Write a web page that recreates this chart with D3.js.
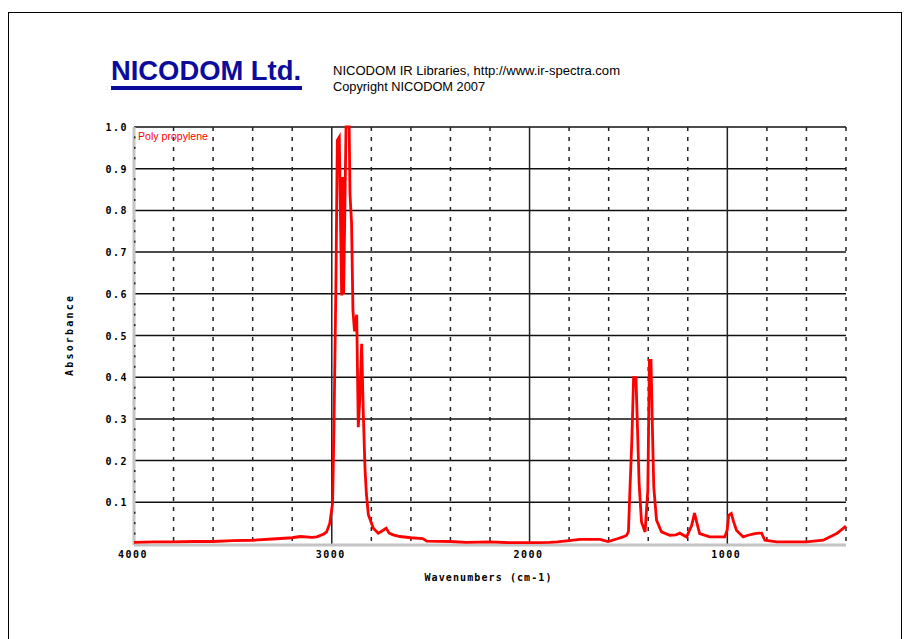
<!DOCTYPE html>
<html>

<head>
    <meta charset="utf-8">
    <title>Poly propylene IR spectrum</title>
    <script type="text/javascript" src="https://d3js.org/d3.v7.min.js"></script>

    <style>
        body {
            margin: 0;
            background: #fff;
        }

        svg {
            display: block;
        }

        .mono {
            font-family: "DejaVu Sans Mono", monospace;
            font-weight: bold;
        }
    </style>

</head>

<body>
</body>

<script type="text/javascript">
    //Width and height
    var w = 906;
    var h = 639;

    //Spectrum: wavenumber (cm-1) and absorbance
    var wavenumbers = [
        4000, 3900, 3800, 3700, 3600, 3500, 3400, 3300, 3200, 3160, 3100, 3076, 3040, 3026, 3010,
        2996, 2989, 2979, 2972, 2962, 2955, 2950, 2945, 2940, 2934, 2928, 2912, 2908, 2900,
        2893, 2885, 2874, 2866, 2858, 2849, 2841, 2832, 2825, 2815, 2790, 2765, 2740, 2725,
        2710, 2690, 2655, 2600, 2540, 2520, 2400, 2320, 2200, 2100, 2000, 1900, 1860, 1800,
        1745, 1700, 1644, 1603, 1560, 1527, 1509, 1500, 1492, 1483, 1474, 1462, 1456, 1446,
        1434, 1416, 1402, 1394, 1386, 1378, 1372, 1358, 1333, 1291, 1260, 1240, 1206, 1180,
        1166, 1153, 1140, 1089, 1013, 1001, 993, 980, 968, 954, 920, 895, 861, 840, 827, 810,
        750, 600, 515, 447, 405, 400
    ];
    var absorbance = [
        0.004, 0.005, 0.005, 0.006, 0.006, 0.008, 0.009, 0.012, 0.015, 0.018, 0.016, 0.017, 0.024, 0.029, 0.05,
        0.098, 0.277, 0.628, 0.968, 0.976, 0.748, 0.596, 0.88, 0.6, 0.8, 1.0, 1.0, 0.84, 0.77,
        0.56, 0.51, 0.55, 0.28, 0.35, 0.48, 0.32, 0.18, 0.12, 0.07, 0.038, 0.026, 0.033, 0.038,
        0.026, 0.022, 0.018, 0.015, 0.013, 0.007, 0.006, 0.004, 0.005, 0.003, 0.003, 0.004, 0.005, 0.008,
        0.011, 0.011, 0.011, 0.006, 0.012, 0.017, 0.021, 0.03, 0.136, 0.245, 0.399, 0.399, 0.305, 0.145,
        0.053, 0.029, 0.129, 0.44, 0.44, 0.26, 0.137, 0.057, 0.029, 0.021, 0.022, 0.026, 0.017, 0.045,
        0.074, 0.049, 0.025, 0.017, 0.017, 0.033, 0.069, 0.073, 0.053, 0.033, 0.017, 0.021, 0.025, 0.026, 0.026, 0.009,
        0.005, 0.005, 0.009, 0.025, 0.041, 0.043
    ];

    //Axis ticks
    var yTicks = [0.1, 0.2, 0.3, 0.4, 0.5, 0.6, 0.7, 0.8, 0.9, 1.0];
    var xLabelTicks = [4000, 3000, 2000, 1000];
    var xMajorGrid = [3000, 2000, 1000];
    var xMinorGrid = [3800, 3600, 3400, 3200, 2800, 2600, 2400, 2200, 1800, 1600, 1400, 1200, 800, 600, 400];
    var yDots = d3.range(0.025, 1.0, 0.025).filter(function(v) {
        return Math.abs(v * 10 - Math.round(v * 10)) > 0.01;
    });

    var spectrum = wavenumbers.map(function(d, i) {
        return { wn: d, a: absorbance[i] };
    });

    //Plot frame
    var pLeft = 134, pRight = 846, pTop = 127, pBottom = 544;

    var x = d3.scaleLinear().domain([4000, 400]).range([pLeft, pRight]);
    var y = d3.scaleLinear().domain([0, 1.0]).range([pBottom, pTop]);

    //Create SVG element
    var svg = d3.select("body")
        .append("svg")
        .attr("width", w)
        .attr("height", h);

    //Outer page border
    svg.append("rect")
        .attr("x", 8.5)
        .attr("y", 12.5)
        .attr("width", 893)
        .attr("height", 700)
        .attr("fill", "none")
        .attr("stroke", "#000")
        .attr("stroke-width", 1);

    //Header
    svg.append("text")
        .attr("x", 111)
        .attr("y", 80)
        .attr("font-family", "Liberation Sans, Arial, sans-serif")
        .attr("font-weight", "bold")
        .attr("font-size", 27)
        .attr("fill", "#0b0b9c")
        .attr("textLength", 190)
        .attr("lengthAdjust", "spacingAndGlyphs")
        .text("NICODOM Ltd.");

    svg.append("rect")
        .attr("x", 111)
        .attr("y", 86)
        .attr("width", 191)
        .attr("height", 4)
        .attr("fill", "#0b0b9c");

    svg.append("text")
        .attr("x", 333)
        .attr("y", 75)
        .attr("font-family", "Liberation Sans, Arial, sans-serif")
        .attr("font-size", 12)
        .attr("textLength", 287)
        .attr("lengthAdjust", "spacingAndGlyphs")
        .text("NICODOM IR Libraries, http://www.ir-spectra.com");

    svg.append("text")
        .attr("x", 333)
        .attr("y", 91)
        .attr("font-family", "Liberation Sans, Arial, sans-serif")
        .attr("font-size", 12)
        .attr("textLength", 152)
        .attr("lengthAdjust", "spacingAndGlyphs")
        .text("Copyright NICODOM 2007");

    //Horizontal grid lines
    svg.selectAll("line.hgrid")
        .data(yTicks)
        .enter()
        .append("line")
        .attr("class", "hgrid")
        .attr("x1", pLeft)
        .attr("x2", pRight)
        .attr("y1", function(d) { return y(d); })
        .attr("y2", function(d) { return y(d); })
        .attr("stroke", "#111")
        .attr("stroke-width", 1.5);

    //Dashed vertical grid lines
    svg.selectAll("line.vminor")
        .data(xMinorGrid)
        .enter()
        .append("line")
        .attr("class", "vminor")
        .attr("x1", function(d) { return x(d); })
        .attr("x2", function(d) { return x(d); })
        .attr("y1", pTop)
        .attr("y2", pBottom)
        .attr("stroke", "#222")
        .attr("stroke-width", 1.5)
        .attr("stroke-dasharray", "4,6");

    //Solid vertical grid lines
    svg.selectAll("line.vmajor")
        .data(xMajorGrid)
        .enter()
        .append("line")
        .attr("class", "vmajor")
        .attr("x1", function(d) { return x(d); })
        .attr("x2", function(d) { return x(d); })
        .attr("y1", pTop)
        .attr("y2", pBottom)
        .attr("stroke", "#222")
        .attr("stroke-width", 1.5);

    //Grey axis lines
    svg.append("line")
        .attr("x1", pLeft).attr("x2", pLeft)
        .attr("y1", pTop).attr("y2", pBottom + 1)
        .attr("stroke", "#c4c4c4")
        .attr("stroke-width", 3);

    svg.append("line")
        .attr("x1", pLeft).attr("x2", pRight)
        .attr("y1", pBottom + 1).attr("y2", pBottom + 1)
        .attr("stroke", "#c4c4c4")
        .attr("stroke-width", 3);

    //Minor dots on the left axis
    svg.selectAll("rect.ydot")
        .data(yDots)
        .enter()
        .append("rect")
        .attr("class", "ydot")
        .attr("x", pLeft)
        .attr("y", function(d) { return y(d) - 1; })
        .attr("width", 1.5)
        .attr("height", 2)
        .attr("fill", "#222");

    //Y tick labels
    svg.selectAll("text.ylab")
        .data(yTicks)
        .enter()
        .append("text")
        .attr("class", "ylab mono")
        .attr("x", 128)
        .attr("y", function(d) { return y(d) + 4; })
        .attr("text-anchor", "end")
        .attr("font-size", 10)
        .attr("letter-spacing", 1.5)
        .text(function(d) { return d.toFixed(1); });

    //X tick labels
    svg.selectAll("text.xlab")
        .data(xLabelTicks)
        .enter()
        .append("text")
        .attr("class", "xlab mono")
        .attr("x", function(d) { return x(d) - 1; })
        .attr("y", 558)
        .attr("text-anchor", "middle")
        .attr("font-size", 10)
        .attr("letter-spacing", 1.5)
        .text(function(d) { return d; });

    //Axis titles
    svg.append("text")
        .attr("class", "mono")
        .attr("x", 488)
        .attr("y", 581)
        .attr("text-anchor", "middle")
        .attr("font-size", 10)
        .attr("textLength", 127)
        .attr("lengthAdjust", "spacing")
        .text("Wavenumbers (cm-1)");

    svg.append("text")
        .attr("class", "mono")
        .attr("transform", "translate(73,336) rotate(-90)")
        .attr("text-anchor", "middle")
        .attr("font-size", 10)
        .attr("textLength", 80)
        .attr("lengthAdjust", "spacing")
        .text("Absorbance");

    //Clip for the spectrum
    svg.append("clipPath")
        .attr("id", "plotclip")
        .append("rect")
        .attr("x", pLeft)
        .attr("y", pTop - 2)
        .attr("width", pRight - pLeft + 2)
        .attr("height", pBottom - pTop + 2);

    var line = d3.line()
        .x(function(d) { return x(d.wn); })
        .y(function(d) { return y(d.a); });

    svg.append("path")
        .datum(spectrum)
        .attr("clip-path", "url(#plotclip)")
        .attr("d", line)
        .attr("fill", "none")
        .attr("stroke", "#ff0000")
        .attr("stroke-width", 2.8)
        .attr("stroke-linejoin", "miter");

    //Sample name
    svg.append("text")
        .attr("x", 138)
        .attr("y", 140)
        .attr("font-family", "Liberation Sans, Arial, sans-serif")
        .attr("font-size", 10)
        .attr("fill", "#ff0000")
        .attr("textLength", 70)
        .attr("lengthAdjust", "spacingAndGlyphs")
        .text("Poly propylene");
</script>

</html>
